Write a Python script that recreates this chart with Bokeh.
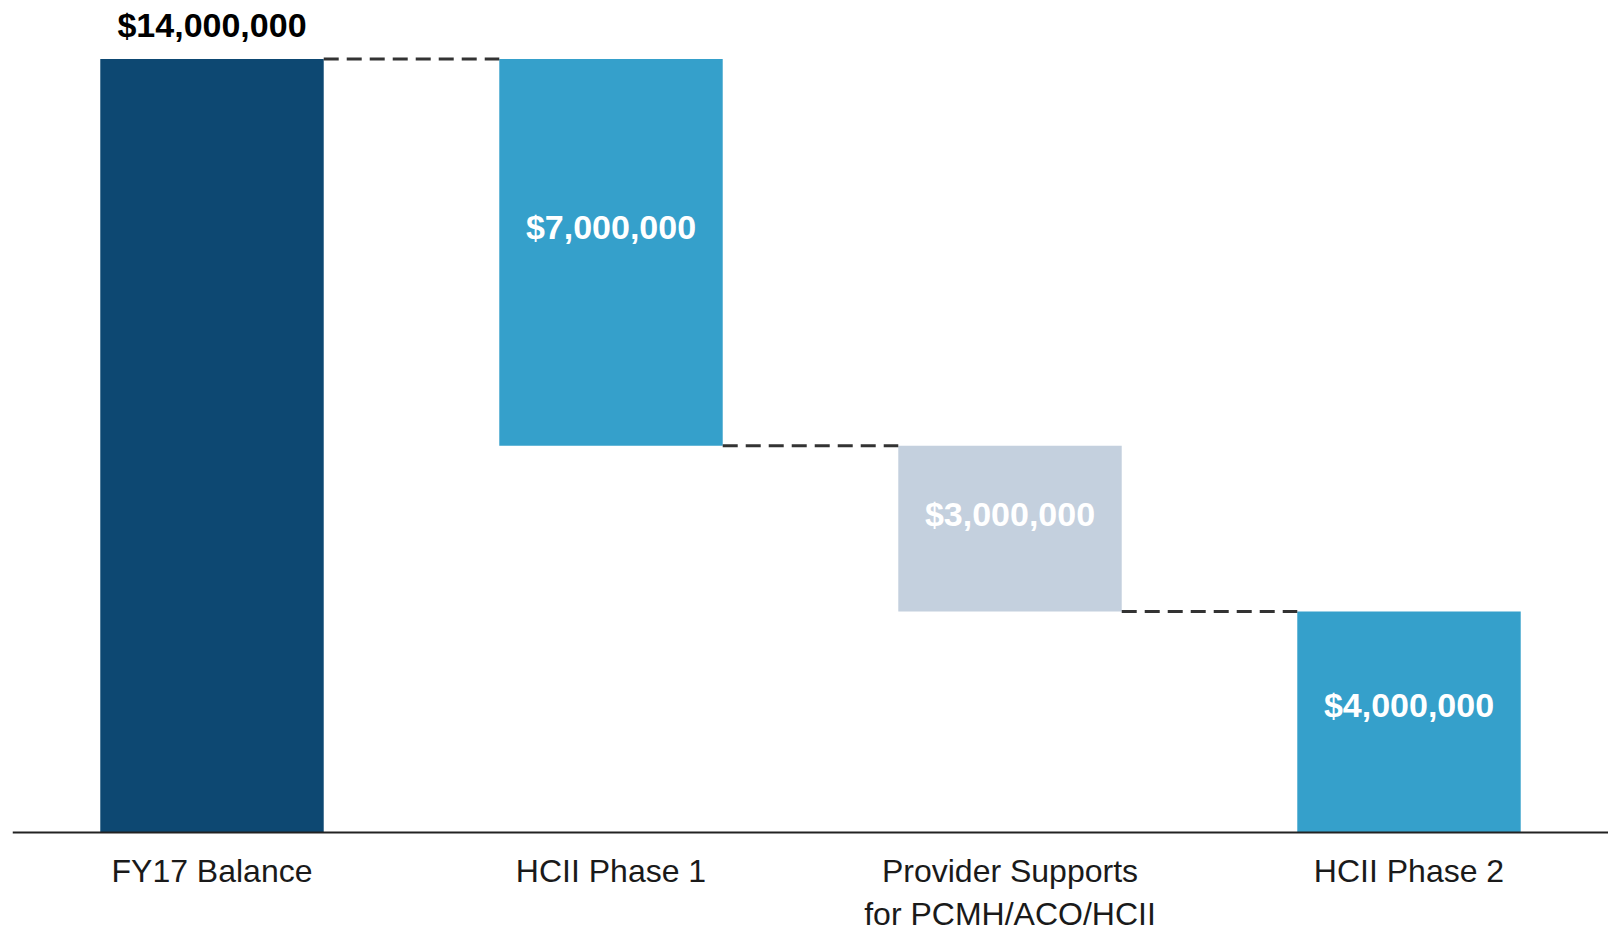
from bokeh.plotting import figure
from bokeh.models import ColumnDataSource, Range1d, Span
from bokeh.core.properties import value
from bokeh.embed import file_html
from bokeh.resources import INLINE

# ---- data ----
categories = ["FY17 Balance", "HCII Phase 1", "Provider Supports\nfor PCMH/ACO/HCII", "HCII Phase 2"]
amounts = [14000000, 7000000, 3000000, 4000000]
kinds = ["total", "decrease", "decrease", "decrease"]
value_labels = ["$14,000,000", "$7,000,000", "$3,000,000", "$4,000,000"]

# ---- waterfall geometry from data ----
xs = list(range(len(categories)))
bottoms, tops = [], []
level = 0
for a, k in zip(amounts, kinds):
    if k == "total":
        bottoms.append(0); tops.append(a); level = a
    else:
        tops.append(level); bottoms.append(level - a); level -= a

colors = ["#0D4872", "#35A0CB", "#C4D0DE", "#35A0CB"]
bar_w = 0.56

src = ColumnDataSource(dict(x=xs, bottom=bottoms, top=tops, color=colors))

W, H = 1608, 933
base_px = 832      # pixel row of the baseline
top_px = 58.5      # pixel row of the largest bar top
per_px = max(tops) / (base_px - top_px)
y_start = -(H - base_px) * per_px
y_end = max(tops) + top_px * per_px

FONT = value("Liberation Sans")

p = figure(width=W, height=H, output_backend="svg", toolbar_location=None,
           x_range=Range1d(-0.5, len(categories) - 0.5), y_range=Range1d(y_start, y_end),
           min_border_left=12, min_border_right=0, min_border_top=0, min_border_bottom=0)
p.outline_line_color = None
p.grid.visible = False
p.axis.visible = False
p.background_fill_color = "white"
p.border_fill_color = "white"

p.vbar(x="x", bottom="bottom", top="top", width=bar_w, color="color", source=src, line_color=None)

# baseline
p.add_layout(Span(location=0, dimension="width", line_color="#222222", line_width=2))

# connectors
cx0, cx1, cy = [], [], []
for i in range(len(xs) - 1):
    lvl = bottoms[i] if kinds[i] != "total" else tops[i]
    cx0.append(xs[i] + bar_w / 2); cx1.append(xs[i + 1] - bar_w / 2); cy.append(lvl)
p.segment(x0=cx0, y0=cy, x1=cx1, y1=cy, line_color="#333333", line_width=2.8, line_dash="15 8")

# total label above
p.text(x=[xs[0]], y=[tops[0]], text=[value_labels[0]], text_align="center", text_baseline="middle",
       y_offset=-34, text_font_size="34px", text_font_style="bold", text_color="#000000",
       text_font=FONT)

# inside labels
ix, iy, it = [], [], []
for i in range(1, len(xs)):
    ix.append(xs[i]); iy.append(tops[i] - 0.45 * (tops[i] - bottoms[i])); it.append(value_labels[i])
p.text(x=ix, y=iy, text=it, text_align="center", text_baseline="middle", y_offset=-6,
       text_font_size="34px", text_font_style="bold", text_color="#FFFFFF",
       text_font=FONT)

# category labels under the baseline
p.text(x=xs, y=[0] * len(xs), text=categories, text_align="center", text_baseline="top",
       y_offset=20, text_font_size="32px", text_color="#1A1A1A", text_font=FONT,
       text_line_height=1.2)

open("out.html", "w").write(file_html(p, INLINE))
